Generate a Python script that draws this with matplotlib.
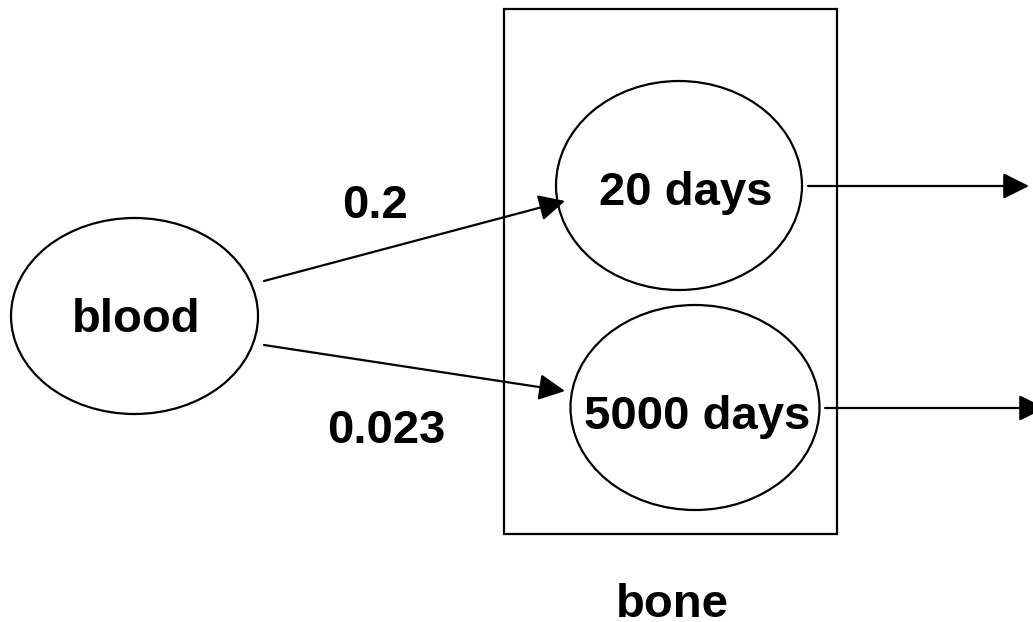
import matplotlib
matplotlib.use("Agg")
import matplotlib.pyplot as plt
from matplotlib.patches import Ellipse, Rectangle

plt.rcParams['font.family'] = ['Liberation Sans', 'DejaVu Sans']

# Nodes: label, center x, center y, width, height (pixel units)
node_labels = ["blood", "20 days", "5000 days"]
node_cx = [134.5, 679, 695]
node_cy = [316, 185.5, 407.5]
node_w = [247, 246, 249]
node_h = [196, 209, 205]
label_x = [136, 686, 697]
label_base_y = [332, 205, 429]

# Bone compartment box
box_x0, box_y0, box_x1, box_y1 = 504, 9, 837, 534
box_label = "bone"
box_label_pos = (672, 617)

# Transfer arrows: (start, end)
arrow_starts = [(264, 281), (264, 345), (808, 186), (825, 408)]
arrow_ends = [(565, 201), (565, 391), (1029, 186), (1045, 408)]

# Rate labels
rate_labels = ["0.2", "0.023"]
rate_pos = [(375, 218), (386.5, 443)]

fig = plt.figure(figsize=(10.33, 6.22), dpi=100)
ax = fig.add_axes([0, 0, 1, 1])
ax.set_xlim(0, 1033)
ax.set_ylim(622, 0)
ax.axis('off')

lw = 1.6
fs = 34

ax.add_patch(Rectangle((box_x0, box_y0), box_x1 - box_x0, box_y1 - box_y0,
                       fill=False, edgecolor='black', linewidth=lw))

for lab, cx, cy, w, h, lx, ly in zip(node_labels, node_cx, node_cy, node_w, node_h,
                                      label_x, label_base_y):
    ax.add_patch(Ellipse((cx, cy), w, h, fill=False, edgecolor='black', linewidth=lw))
    ax.text(lx, ly, lab, ha='center', va='baseline', fontsize=fs, fontweight='bold')

for s, e in zip(arrow_starts, arrow_ends):
    ax.annotate("", xy=e, xytext=s, annotation_clip=False,
                arrowprops=dict(arrowstyle='-|>,head_length=0.8,head_width=0.4',
                                mutation_scale=20, color='black', lw=lw,
                                shrinkA=0, shrinkB=0))

for lab, (x, y) in zip(rate_labels, rate_pos):
    ax.text(x, y, lab, ha='center', va='baseline', fontsize=fs, fontweight='bold')

ax.text(box_label_pos[0], box_label_pos[1], box_label, ha='center', va='baseline',
        fontsize=fs, fontweight='bold')

fig.savefig("out.png", dpi=100)
